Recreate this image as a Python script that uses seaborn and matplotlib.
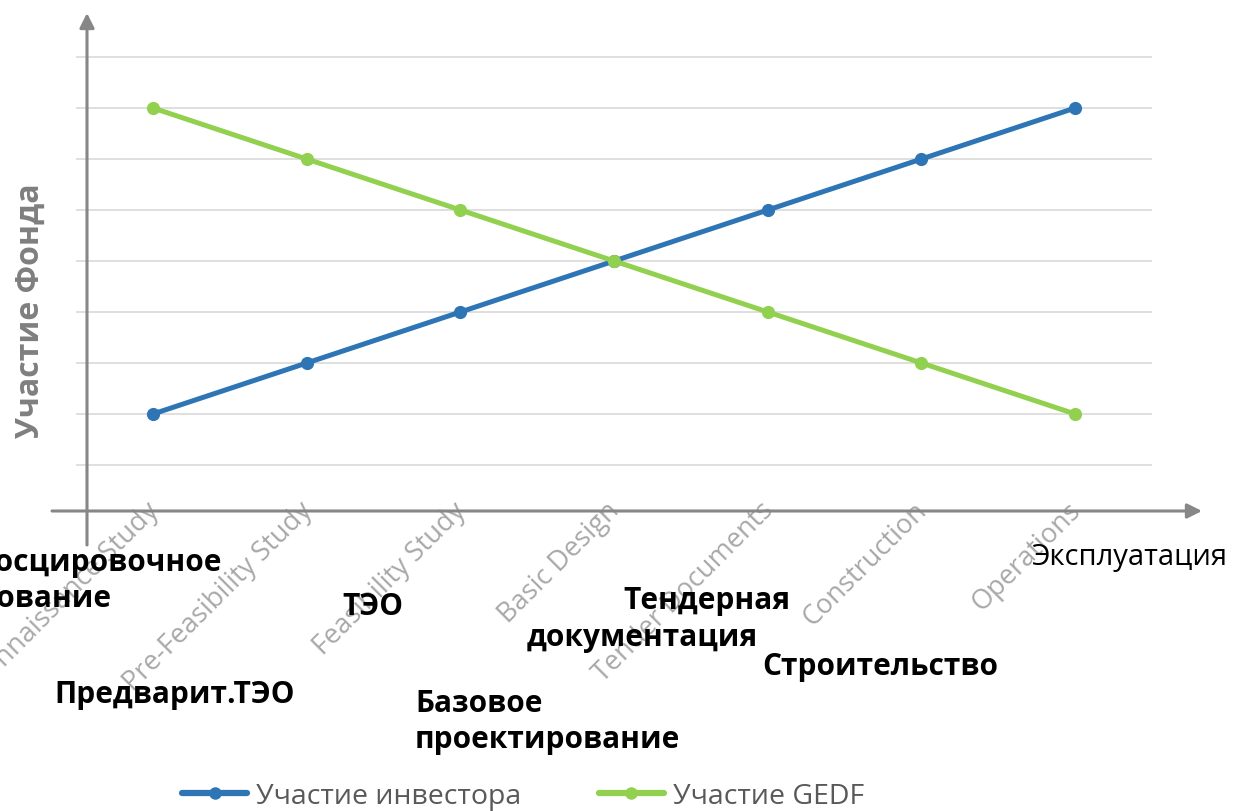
import numpy as np
import pandas as pd
import matplotlib
matplotlib.use("Agg")
import matplotlib.pyplot as plt
import seaborn as sns
from matplotlib.lines import Line2D

# data
stages_en = ['Reconnaissance Study', 'Pre-Feasibility Study', 'Feasibility Study',
             'Basic Design', 'Tender Documents', 'Construction', 'Operations']
investor = [2, 3, 4, 5, 6, 7, 8]
gedf = [8, 7, 6, 5, 4, 3, 2]
series_names = ['Участие инвестора', 'Участие GEDF']

# russian stage names under the axis
ru_labels = ['Рекогносцировочное\nисследование', 'Предварит.ТЭО', 'ТЭО',
             'Базовое\nпроектирование', 'Тендерная', 'документация',
             'Строительство', 'Эксплуатация']

sns.set_theme(style='white')
plt.rcParams['font.family'] = ['Open Sans', 'DejaVu Sans']

df = pd.DataFrame({
    'stage': list(range(len(stages_en))) * 2,
    'value': investor + gedf,
    'series': [series_names[0]] * len(investor) + [series_names[1]] * len(gedf),
})

W, H = 1233, 812
fig = plt.figure(figsize=(W / 100, H / 100), dpi=100)

# pixel calibration: category i at 153 + 153.7*i, value v at 517 - 51*v
x0, dx = 153, 153.7
y0, dy = 517, 51.0
xmin, xmax = -0.5, 6.5
ymin, ymax = 0, 9.9
left = (x0 + xmin * dx) / W
width = (xmax - xmin) * dx / W
bottom = (H - y0) / H
height = (ymax - ymin) * dy / H
ax = fig.add_axes([left, bottom, width, height])

colors = {series_names[0]: '#2e75b6', series_names[1]: '#92d050'}
sns.lineplot(data=df, x='stage', y='value', hue='series', palette=colors,
             marker='o', markersize=9.5, markeredgewidth=0, linewidth=3.6,
             legend=False, ax=ax, zorder=3)

ax.set_xlim(xmin, xmax)
ax.set_ylim(ymin, ymax)
for v in range(1, 10):
    ax.axhline(v, color='#d9d9d9', lw=1.2, zorder=0)
for s in ax.spines.values():
    s.set_visible(False)
ax.set_xticks([])
ax.set_yticks([])
ax.set_xlabel('')
ax.set_ylabel('')

def px2data(px, py):
    return ((px - x0) / dx, (y0 - py) / dy)

axis_col = '#878787'
# y axis arrow
ax.annotate('', xy=px2data(87, 14), xytext=px2data(87, 546),
            arrowprops=dict(arrowstyle='-|>', color=axis_col, lw=2.2,
                            mutation_scale=22, shrinkA=0, shrinkB=0),
            annotation_clip=False)
# x axis arrow
ax.annotate('', xy=px2data(1202, 512), xytext=px2data(52, 512),
            arrowprops=dict(arrowstyle='-|>', color=axis_col, lw=2.2,
                            mutation_scale=22, shrinkA=0, shrinkB=0),
            annotation_clip=False)

# rotated english stage labels
for i, lab in enumerate(stages_en):
    ax.text(i + 0.01, px2data(0, 507)[1], lab, rotation=45, ha='right', va='center',
            rotation_mode='anchor', fontsize=19.5, color='#a8a8a8', clip_on=False,
            zorder=1)

# russian labels, positions in px
ru_pos = [(0, 581, 'left'), (175, 695, 'center'), (373, 607, 'center'),
          (415, 722, 'left'), (707, 601, 'center'), (642, 638, 'center'),
          (880, 667, 'center'), (1129, 557, 'center')]
ru_texts = []
for lab, (px, py, ha) in zip(ru_labels, ru_pos):
    xx, yy = px2data(px, py)
    normal = lab == 'Эксплуатация'
    t = ax.text(xx, yy, lab, ha=ha, va='center', fontsize=21 if normal else 21.5,
                fontweight='normal' if normal else 'bold',
                color='black', linespacing=1.22, clip_on=False, zorder=4)
    ru_texts.append(t)

# first label runs off the left edge: put the right end of its first line at 222 px
fig.canvas.draw()
bb = ru_texts[0].get_window_extent()
shift = 222 - bb.x1
ru_texts[0].set_x(px2data(shift, 0)[0])

fig.text(30 / W, 1 - 311 / H, 'Участие Фонда', rotation=90, ha='center', va='center',
         fontsize=23, fontweight='bold', color='#7f7f7f')

handles = [Line2D([0], [0], color=colors[n], lw=4.5, marker='o', markersize=9,
                  markeredgewidth=0) for n in series_names]
leg = fig.legend(handles, series_names, loc='center', bbox_to_anchor=(523 / W, 1 - 797 / H),
                 ncol=2, frameon=False, fontsize=20.5, handlelength=2.3,
                 handletextpad=0.32, columnspacing=2.7)
for t in leg.get_texts():
    t.set_color('#595959')

fig.savefig('out.png', dpi=100)
